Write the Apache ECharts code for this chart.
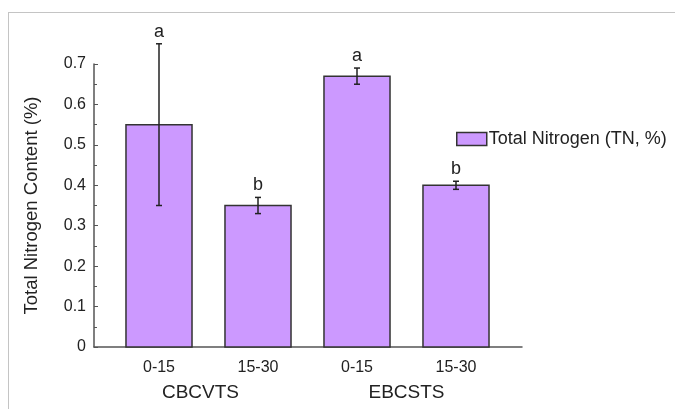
<!DOCTYPE html>
<html>
<head>
<meta charset="utf-8">
<script src="https://cdn.jsdelivr.net/npm/echarts@6/dist/echarts.min.js"></script>
<style>
  html, body { margin: 0; padding: 0; background: #fff; }
  #frame { position: absolute; left: 8px; top: 12px; width: 700px; height: 420px;
           border-left: 1px solid #c4c4c4; border-top: 1px solid #c4c4c4; }
  #container { position: absolute; left: 0; top: 0; width: 675px; height: 409px; }
</style>
</head>
<body>
<div id="frame"></div>
<div id="container"></div>
<script>
var depths = ["0-15", "15-30", "0-15", "15-30"];
var groups = ["CBCVTS", "EBCSTS"];
var tnValues = [0.55, 0.35, 0.67, 0.40];
var tnErrors = [0.20, 0.02, 0.02, 0.01];
var letters = ["a", "b", "a", "b"];
var yTicks = ["0", "0.1", "0.2", "0.3", "0.4", "0.5", "0.6", "0.7"];

var dom = document.getElementById("container");
var myChart = echarts.init(dom, null, { renderer: "canvas" });

var font = "'Liberation Sans', Arial, sans-serif";
var barColor = "#cc99ff";

var rows = tnValues.map(function (v, i) {
  return [i, v, tnErrors[i]];
});

var option = {
  animation: false,
  legend: {
    show: true,
    data: [{ name: "Total Nitrogen (TN, %)", icon: "rect" }],
    left: 451,
    top: 125,
    itemWidth: 30,
    itemHeight: 13,
    itemGap: 0,
    itemStyle: { color: barColor, borderColor: "#333", borderWidth: 1.5 },
    textStyle: { fontFamily: font, fontSize: 18, color: "#222", padding: [0, 0, 0, -3] },
  },
  grid: [
    { left: 94, right: 153, top: 64, bottom: 62 },
    { left: 109.5, width: 396, top: 64, bottom: 62 },
    { left: 109.5, width: 396, top: 64, bottom: 62 },
  ],
  xAxis: [
    {
      type: "value", gridIndex: 0, min: 0, max: 1,
      axisLine: { show: true, lineStyle: { color: "#555", width: 1.5 } },
      axisTick: { show: false }, axisLabel: { show: false }, splitLine: { show: false },
    },
    {
      type: "category", gridIndex: 1, data: depths,
      axisLine: { show: false }, axisTick: { show: false },
      axisLabel: { margin: 13, fontFamily: font, fontSize: 16, color: "#222" },
    },
    {
      type: "category", gridIndex: 2, data: groups,
      axisLine: { show: false }, axisTick: { show: false },
      axisLabel: {
        margin: 36, fontFamily: font, fontSize: 19, color: "#222",
        formatter: function (v, i) { return i === 0 ? "{l|" + v + "}" : "{r|" + v + "}"; },
        rich: {
          l: { fontFamily: font, fontSize: 19, color: "#222", padding: [0, 16, 0, 0] },
          r: { fontFamily: font, fontSize: 19, color: "#222" },
        },
      },
    },
  ],
  yAxis: [
    {
      type: "value", gridIndex: 0, min: 0, max: 0.7, interval: 0.1,
      name: "Total Nitrogen Content (%)", nameLocation: "middle", nameGap: 53,
      nameTextStyle: { fontFamily: font, fontSize: 18.5, color: "#222" },
      axisLine: { show: true, lineStyle: { color: "#555", width: 1.5 } },
      axisTick: { show: true, inside: true, length: 4, lineStyle: { color: "#555" } },
      minorTick: { show: true, splitNumber: 2, length: 3, lineStyle: { color: "#555" } },
      axisLabel: {
        margin: 8, fontFamily: font, fontSize: 16, color: "#222",
        formatter: function (v) { return yTicks[Math.round(v * 10)]; },
      },
      splitLine: { show: false },
    },
    { type: "value", gridIndex: 1, min: 0, max: 0.7, show: false },
    { type: "value", gridIndex: 2, min: 0, max: 0.7, show: false },
  ],
  series: [
    {
      name: "Total Nitrogen (TN, %)",
      type: "custom",
      xAxisIndex: 1,
      yAxisIndex: 1,
      itemStyle: { color: barColor, borderColor: "#333", borderWidth: 1.5 },
      data: rows,
      clip: false,
      renderItem: function (params, api) {
        var i = api.value(0);
        var v = api.value(1);
        var e = api.value(2);
        var bw = api.size([1, 0])[0] * 0.667;
        var base = api.coord([i, 0]);
        var top = api.coord([i, v]);
        var hi = api.coord([i, v + e]);
        var lo = api.coord([i, v - e]);
        var cap = 3;
        var ls = { stroke: "#222", lineWidth: 1.5 };
        return {
          type: "group",
          children: [
            {
              type: "rect",
              shape: { x: base[0] - bw / 2, y: top[1], width: bw, height: base[1] - top[1] },
              style: { fill: barColor, stroke: "#333", lineWidth: 1.5 },
            },
            { type: "line", shape: { x1: hi[0], y1: hi[1], x2: lo[0], y2: lo[1] }, style: ls },
            { type: "line", shape: { x1: hi[0] - cap, y1: hi[1], x2: hi[0] + cap, y2: hi[1] }, style: ls },
            { type: "line", shape: { x1: lo[0] - cap, y1: lo[1], x2: lo[0] + cap, y2: lo[1] }, style: ls },
            {
              type: "text",
              x: hi[0], y: hi[1] - 3,
              style: {
                text: letters[i], fill: "#222", font: "18px " + font,
                align: "center", verticalAlign: "bottom",
              },
            },
          ],
        };
      },
    },
  ],
};

myChart.setOption(option);
window.addEventListener("resize", myChart.resize);
</script>
</body>
</html>
